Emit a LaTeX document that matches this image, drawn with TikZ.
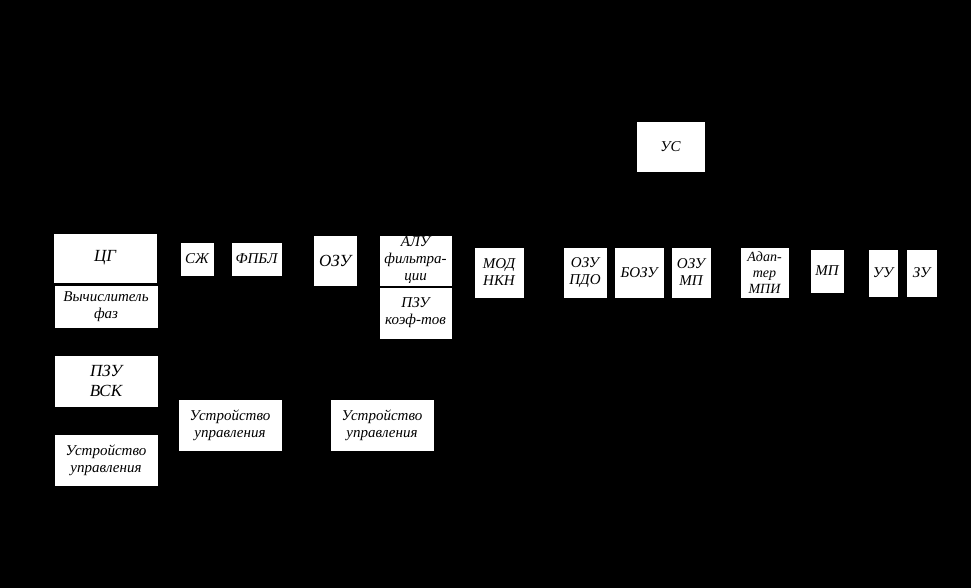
\documentclass[tikz,border=0pt]{standalone}
\usepackage{fontspec}
\setmainfont{Liberation Serif}
\usetikzlibrary{arrows.meta}
\begin{document}
\begin{tikzpicture}[x=1pt,y=-1pt,
  box/.style={fill=white, draw=black, line width=0.6pt, align=center, inner sep=0pt,
    font=\itshape\fontsize{15}{17}\selectfont},
  big/.style={font=\itshape\fontsize{17}{20}\selectfont},
  small/.style={font=\itshape\fontsize{14}{16}\selectfont},
  wire/.style={draw=black, line width=1pt, -{Stealth[length=6pt]}}]
\fill[black] (0,0) rectangle (971,588);
\useasboundingbox (0,0) rectangle (971,588);
\node[box, minimum width=69pt, minimum height=51pt] (us) at (670.5,146.5) {УС};
\node[box, big, minimum width=104pt, minimum height=50pt] (cg) at (105,258) {ЦГ};
\node[box, minimum width=104pt, minimum height=43pt] (vych) at (106,306.5) {Вычислитель\\фаз};
\node[box, minimum width=34pt, minimum height=34pt] (szh) at (197,259) {СЖ};
\node[box, minimum width=51pt, minimum height=34pt] (fpbl) at (256.5,259) {ФПБЛ};
\node[box, big, minimum width=44pt, minimum height=51pt] (ozu) at (335,260.5) {ОЗУ};
\node[box, minimum width=73pt, minimum height=51pt] (alu) at (415.5,260.5) {АЛУ\\фильтра-\\ции};
\node[box, minimum width=73pt, minimum height=52pt] (pzuk) at (415.5,313) {ПЗУ\\коэф-тов};
\node[box, minimum width=50pt, minimum height=51pt] (mod) at (499,272.5) {МОД\\НКН};
\node[box, minimum width=44pt, minimum height=51pt] (ozupdo) at (585,272.5) {ОЗУ\\ПДО};
\node[box, minimum width=50pt, minimum height=51pt] (bozu) at (639,272.5) {БОЗУ};
\node[box, minimum width=40pt, minimum height=51pt] (ozump) at (691,272.5) {ОЗУ\\МП};
\node[box, small, minimum width=49pt, minimum height=51pt] (adapt) at (764.5,272.5) {Адап-\\тер\\МПИ};
\node[box, minimum width=34pt, minimum height=44pt] (mp) at (827,271) {МП};
\node[box, minimum width=30pt, minimum height=48pt] (uu) at (883,273) {УУ};
\node[box, minimum width=31pt, minimum height=48pt] (zu) at (921.5,273) {ЗУ};
\node[box, big, minimum width=104pt, minimum height=52pt] (pzuvsk) at (106,381) {ПЗУ\\ВСК};
\node[box, minimum width=104pt, minimum height=52pt] (uprl) at (106,460) {Устройство\\управления};
\node[box, minimum width=104pt, minimum height=52pt] (uprm) at (230,425) {Устройство\\управления};
\node[box, minimum width=104pt, minimum height=52pt] (uprr) at (382,425) {Устройство\\управления};
\path[wire] (cg) -- (szh);
\path[wire] (szh) -- (fpbl);
\path[wire] (fpbl) -- (ozu);
\path[wire] (ozu) -- (alu);
\path[wire] (alu.east) -- (mod.west |- alu.east);
\path[wire] (mod) -- (ozupdo);
\path[wire] (ozupdo) -- (bozu);
\path[wire] (bozu) -- (ozump);
\path[wire] (ozump) -- (adapt);
\path[wire] (adapt) -- (mp);
\path[wire] (mp) -- (uu);
\path[wire] (uu) -- (zu);
\end{tikzpicture}
\end{document}
